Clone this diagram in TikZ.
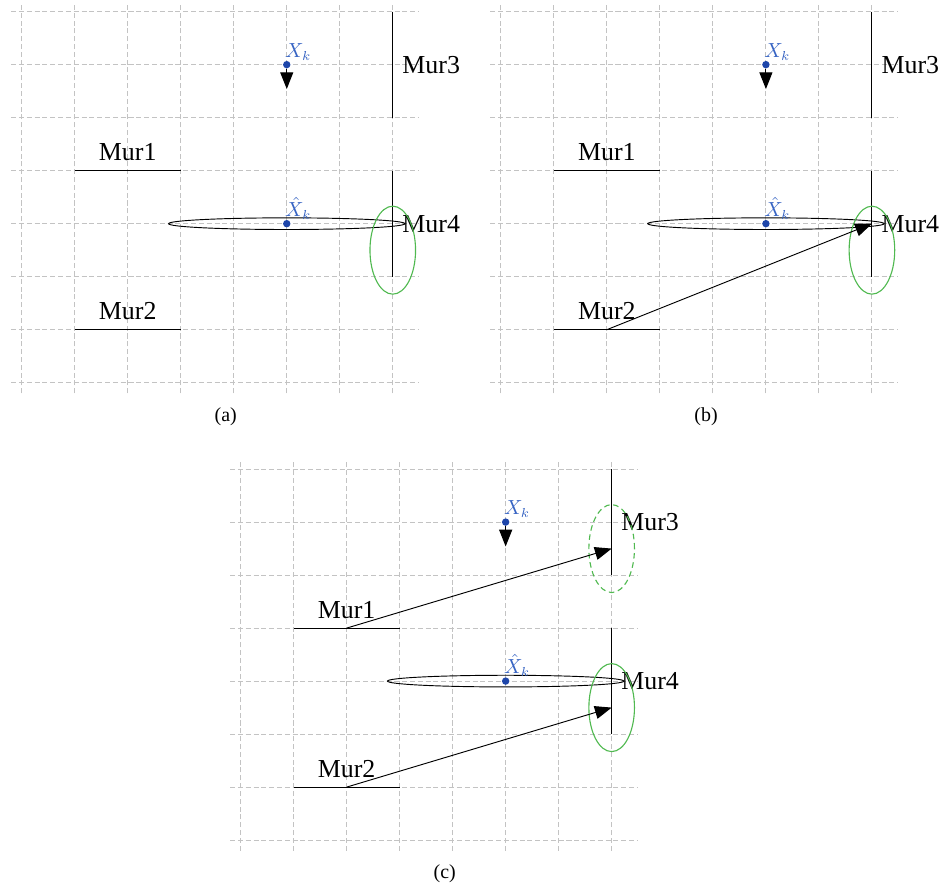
\documentclass[tikz,border=0pt]{standalone}
\usepackage{fontspec}
\setmainfont{Liberation Serif}
\usetikzlibrary{arrows.meta, positioning}
\definecolor{gridgray}{RGB}{195,195,195}
\definecolor{ptblue}{RGB}{30,70,170}
\definecolor{lblblue}{RGB}{55,100,195}
\definecolor{zonegreen}{RGB}{80,185,80}

% one panel: grid, four walls, pose and its estimate
\newcommand{\murpanel}[1]{%
  \draw[gridline] (-0.2,-0.2) grid (7.48,7.13);
  \coordinate (#1w1a) at (1,4); \coordinate (#1w1m) at (2,4); \coordinate (#1w1b) at (3,4);
  \coordinate (#1w2a) at (1,1); \coordinate (#1w2m) at (2,1); \coordinate (#1w2b) at (3,1);
  \coordinate (#1w3a) at (7,7); \coordinate (#1w3m) at (7,6); \coordinate (#1w3b) at (7,5);
  \coordinate (#1w4a) at (7,4); \coordinate (#1w4m) at (7,3); \coordinate (#1w4b) at (7,2);
  \draw[wall] (#1w1a) -- (#1w1b);
  \draw[wall] (#1w2a) -- (#1w2b);
  \draw[wall] (#1w3a) -- (#1w3b);
  \draw[wall] (#1w4a) -- (#1w4b);
  \node[walllbl, above=5pt of #1w1m] (#1l1) {Mur1};
  \node[walllbl, above=5pt of #1w2m] (#1l2) {Mur2};
  \node[walllbl, right=5pt of #1w3m] (#1l3) {Mur3};
  \node[walllbl, right=5pt of #1w4m] (#1l4) {Mur4};
  \draw[covar] (5,3) ellipse [x radius=2.23, y radius=0.11];
  \node[pt] (#1xk) at (5,6) {};
  \node[pt] (#1xh) at (5,3) {};
  \node[ptlbl, above right=0pt of #1xk.north west] (#1xkl) {$X_k$};
  \node[ptlbl, above right=0pt of #1xh.north west] (#1xhl) {$\hat{X}_k$};
  \coordinate (#1xkend) at (5,5.54);
  \draw[tip] (#1xk) -- (#1xkend);
  \coordinate (#1h3) at (7,5.5);
  \coordinate (#1h4) at (7,2.5);
}

\begin{document}
\begin{tikzpicture}[
  gridline/.style={gridgray, line width=0.5pt, dash pattern=on 2.7pt off 1.5pt},
  wall/.style={black, line width=0.6pt},
  covar/.style={black, line width=0.5pt},
  zone/.style={zonegreen, line width=0.6pt},
  pt/.style={circle, fill=ptblue, minimum size=0.14cm, inner sep=0pt},
  ptlbl/.style={lblblue, inner sep=0.5pt, font=\fontsize{10.5}{12}\selectfont},
  walllbl/.style={inner sep=0pt, font=\fontsize{13.9}{16}\selectfont},
  caplbl/.style={inner sep=0pt, font=\fontsize{10.7}{13}\selectfont},
  tip/.style={-{Triangle[length=9pt, width=7pt]}, line width=0.6pt},
  ray/.style={-{Triangle[length=9pt, width=7pt]}, line width=0.5pt}
]
\useasboundingbox (-0.41,-9.44) rectangle (17.40,7.22);

% (a)
\begin{scope}
  \murpanel{a}
  \draw[zone] (ah4) ellipse [x radius=0.43, y radius=0.83];
  \node[caplbl] (capa) at (3.85,-0.64) {(a)};
\end{scope}

% (b)
\begin{scope}[shift={(9.04,0)}]
  \murpanel{b}
  \draw[zone] (bh4) ellipse [x radius=0.43, y radius=0.83];
  \draw[ray] (bw2m) -- (bw4m);
  \node[caplbl] (capb) at (3.87,-0.64) {(b)};
\end{scope}

% (c)
\begin{scope}[shift={(4.13,-8.63)}]
  \murpanel{c}
  \draw[zone, dash pattern=on 3pt off 2pt] (ch3) ellipse [x radius=0.43, y radius=0.83];
  \draw[zone] (ch4) ellipse [x radius=0.43, y radius=0.83];
  \draw[ray] (cw1m) -- (ch3);
  \draw[ray] (cw2m) -- (ch4);
  \node[caplbl] (capc) at (3.85,-0.64) {(c)};
\end{scope}
\end{tikzpicture}
\end{document}
